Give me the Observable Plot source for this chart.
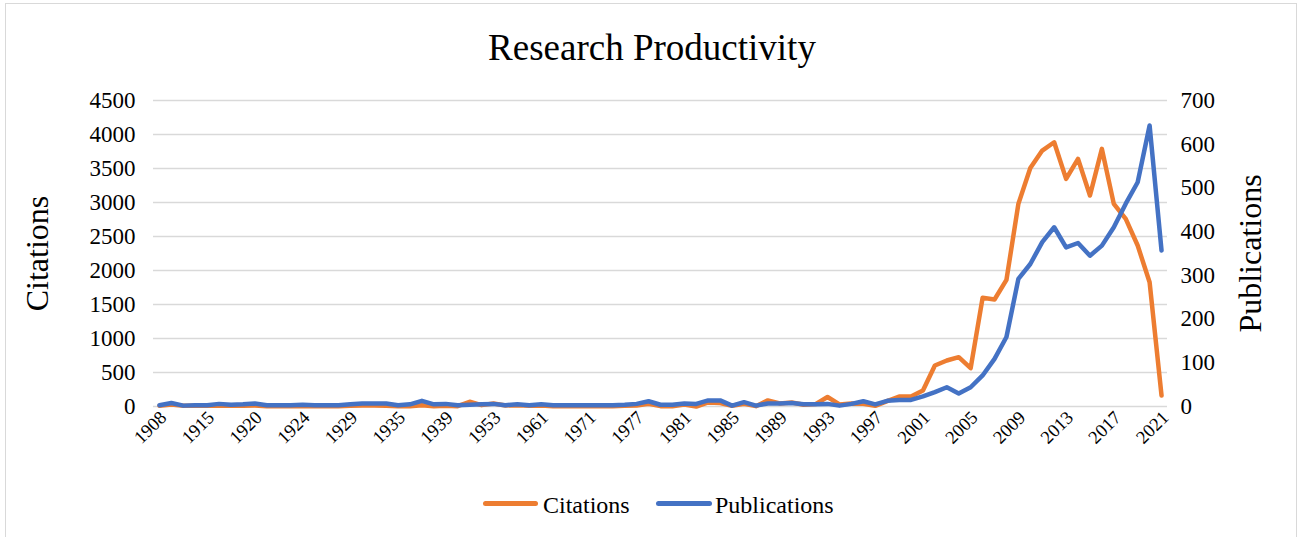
<!DOCTYPE html>
<html>
<head>
<meta charset="utf-8">
<script src="https://cdn.jsdelivr.net/npm/d3@7"></script>
<script src="https://cdn.jsdelivr.net/npm/@observablehq/plot@0.6"></script>
<style>
  html, body { margin: 0; padding: 0; background: #fff; }
  body { width: 1304px; height: 537px; position: relative; overflow: hidden; font-family: 'Liberation Serif', 'Times New Roman', serif; color: #000; }
  #frame { position: absolute; left: 5px; top: 3px; width: 1292px; height: 600px; border: 1.5px solid #d9d9d9; box-sizing: border-box; }
  #title { position: absolute; left: 0; top: 29px; width: 1304px; text-align: center; font-size: 37px; line-height: 37px; }
  #chart { position: absolute; left: 0; top: 80px; }
  .sw { position: absolute; height: 5px; border-radius: 2.5px; }
  .lt { position: absolute; font-size: 24px; line-height: 24px; white-space: nowrap; }
</style>
</head>
<body>
<div id="frame"></div>
<div id="title">Research Productivity</div>
<div id="chart"></div>
<div id="legend">
  <div class="sw" style="left:483px;top:501px;width:55px;background:#ED7D31"></div>
  <div class="lt" style="left:543px;top:493px">Citations</div>
  <div class="sw" style="left:656px;top:501px;width:56px;background:#4472C4"></div>
  <div class="lt" style="left:715px;top:493px">Publications</div>
</div>
<script>
const years = [1908,1910,1912,1913,1915,1916,1917,1919,1920,1921,
  1922,1923,1924,1925,1927,1928,1929,1930,1931,1933,
  1935,1936,1937,1938,1939,1940,1947,1950,1953,1955,
  1957,1959,1961,1963,1966,1969,1971,1973,1975,1976,
  1977,1978,1979,1980,1981,1982,1983,1984,1985,1986,
  1987,1988,1989,1990,1991,1992,1993,1994,1995,1996,
  1997,1998,1999,2000,2001,2002,2003,2004,2005,2006,
  2007,2008,2009,2010,2011,2012,2013,2014,2015,2016,
  2017,2018,2019,2020,2021];

const citations = [10,30,10,10,15,10,10,10,15,5,
  5,5,5,5,5,5,10,15,15,10,
  5,5,20,5,10,5,70,20,45,15,
  20,10,15,5,5,5,5,5,5,10,
  15,40,5,5,30,0,60,50,10,40,
  5,90,45,60,25,35,140,30,45,40,
  10,80,147,147,235,603,676,725,563,1598,
  1573,1862,2980,3508,3764,3886,3347,3641,3102,3788,
  2980,2759,2367,1827,162];

const publications = [3,8,2,3,3,6,4,5,7,3,
  3,3,4,3,3,3,5,7,7,7,
  3,5,13,5,6,3,4,5,6,3,
  5,3,5,3,3,3,3,3,3,4,
  6,12,4,4,7,6,14,14,2,10,
  2,7,7,8,5,5,6,2,6,12,
  5,13,15,15,23,33,44,30,44,71,
  109,159,292,326,376,410,364,374,345,368,
  410,464,513,643,357];

const xTickLabels = [1908,1915,1920,1924,1929,1935,1939,1953,1961,1971,1977,1981,1985,1989,1993,1997,2001,2005,2009,2013,2017,2021];
const citTicks = [0,500,1000,1500,2000,2500,3000,3500,4000,4500];
const pubTicks = [0,100,200,300,400,500,600,700];

const citMax = 4500, pubMax = 700;
const k = citMax / pubMax;
const rows = years.map((yr, i) => ({yr, cit: citations[i], pub: publications[i] * k}));

const chart = Plot.plot({
  width: 1304,
  height: 380,
  marginTop: 20,
  marginBottom: 54,
  marginLeft: 153,
  marginRight: 137,
  style: {fontFamily: "'Liberation Serif','Times New Roman',serif", fontSize: "23px", color: "#000", background: "transparent", overflow: "visible"},
  x: {type: "point", domain: years, padding: 0.5, axis: null},
  y: {domain: [0, citMax]},
  marks: [
    Plot.gridY(citTicks, {stroke: "#d9d9d9", strokeOpacity: 1, strokeWidth: 1.6}),
    Plot.axisY(citTicks, {anchor: "left", tickSize: 0, tickPadding: 18, label: null, fontSize: 23, tickFormat: d => String(d)}),
    Plot.axisY(pubTicks.map(d => d * k), {anchor: "right", tickSize: 0, tickPadding: 13, label: null, fontSize: 23, tickFormat: d => String(Math.round(d / k))}),
    Plot.text(xTickLabels, {x: d => d, text: d => String(d), frameAnchor: "bottom", dy: 8, dx: 4, rotate: -45, textAnchor: "end", lineAnchor: "middle", fontSize: 18.5}),
    Plot.line(rows, {x: "yr", y: "cit", stroke: "#ED7D31", strokeWidth: 4.5, strokeLinejoin: "round", strokeLinecap: "round"}),
    Plot.line(rows, {x: "yr", y: "pub", stroke: "#4472C4", strokeWidth: 4.5, strokeLinejoin: "round", strokeLinecap: "round"}),
    Plot.text(["Citations"], {frameAnchor: "left", dx: -116, rotate: -90, textAnchor: "middle", lineAnchor: "middle", fontSize: 32}),
    Plot.text(["Publications"], {frameAnchor: "right", dx: 83, rotate: -90, textAnchor: "middle", lineAnchor: "middle", fontSize: 32})
  ]
});
document.getElementById("chart").appendChild(chart);
</script>
</body>
</html>
